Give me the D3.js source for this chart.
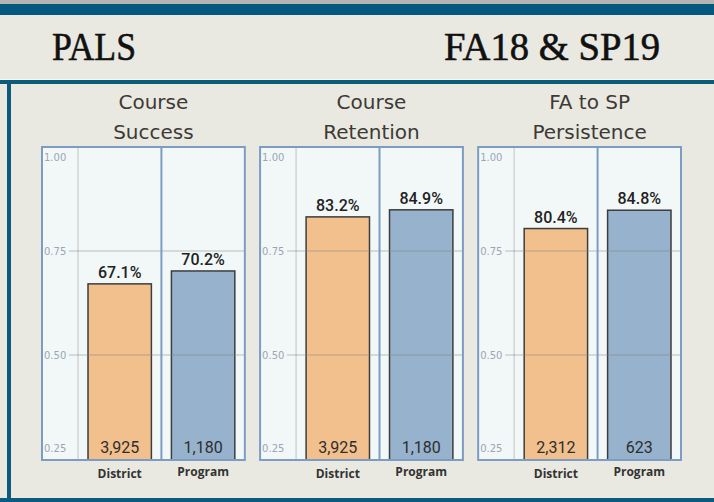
<!DOCTYPE html>
<html>
<head>
<meta charset="utf-8">
<script src="https://cdn.jsdelivr.net/npm/d3@7"></script>
<style>
  body { margin: 0; background: #e9e9e1; }
  svg { display: block; }
</style>
</head>
<body>
<script>
// chart data
var metrics = ["Course Success", "Course Retention", "FA to SP Persistence"];
var titleLines = [["Course", "Success"], ["Course", "Retention"], ["FA to SP", "Persistence"]];
var groups = ["District", "Program"];
var districtRates = [0.671, 0.832, 0.804];
var programRates = [0.702, 0.849, 0.848];
var districtCounts = [3925, 3925, 2312];
var programCounts = [1180, 1180, 623];
var yTicks = [0.25, 0.50, 0.75, 1.00];

var width = 714, height = 502;
var colors = {District: "#f2c08d", Program: "#97b2cc"};

var svg = d3.select("body").append("svg")
    .attr("width", width)
    .attr("height", height);

// page frame
svg.append("rect").attr("width", width).attr("height", height).attr("fill", "#e9e9e1");
svg.append("rect").attr("x", 0).attr("y", 0).attr("width", width).attr("height", 4).attr("fill", "#b4b4b2");
svg.append("rect").attr("x", 0).attr("y", 4).attr("width", width).attr("height", 11).attr("fill", "#03587f");
svg.append("rect").attr("x", 0).attr("y", 79).attr("width", width).attr("height", 1).attr("fill", "#f7f7f2");
svg.append("rect").attr("x", 0).attr("y", 80).attr("width", width).attr("height", 4).attr("fill", "#0c5a7c");
svg.append("rect").attr("x", 7).attr("y", 80).attr("width", 4).attr("height", height - 80).attr("fill", "#0c5a7c");
svg.append("rect").attr("x", 0).attr("y", 498).attr("width", width).attr("height", 4).attr("fill", "#0c5a7c");

// header
svg.append("text")
    .attr("x", 52).attr("y", 60)
    .attr("textLength", 84).attr("lengthAdjust", "spacingAndGlyphs")
    .style("font-family", "Liberation Serif")
    .style("font-size", "39px")
    .style("fill", "#111")
    .style("stroke", "#111").style("stroke-width", 0.6)
    .text("PALS");

svg.append("text")
    .attr("x", 444).attr("y", 60)
    .attr("textLength", 216).attr("lengthAdjust", "spacingAndGlyphs")
    .style("font-family", "Liberation Serif")
    .style("font-size", "39px")
    .style("fill", "#111")
    .style("stroke", "#111").style("stroke-width", 0.6)
    .text("FA18 & SP19");

// scales
var panelTop = 147, panelH = 313, plotH = 312;
var px = d3.scaleBand().domain(metrics).range([42, 681]).paddingInner(0.07);
var pw = px.bandwidth();
var gutter = 36;
var x = d3.scaleBand().domain(groups).range([gutter, pw]);
var y = d3.scaleLinear().domain([0.25, 1.00]).range([plotH, 0]);

var fmtPct = d3.format(".1%");
var fmtCount = d3.format(",");

metrics.forEach(function(m, i) {
  var g = svg.append("g")
      .attr("transform", "translate(" + px(m) + "," + panelTop + ")");

  // title
  titleLines[i].forEach(function(line, j) {
    svg.append("text")
        .attr("x", px(m) + pw / 2 + 10)
        .attr("y", 109 + j * 30)
        .style("text-anchor", "middle")
        .style("font-family", "DejaVu Sans")
        .style("font-size", "20px")
        .style("fill", "#3d3a36")
        .text(line);
  });

  g.append("rect")
      .attr("width", pw).attr("height", panelH)
      .attr("fill", "#f2f8f8");

  // vertical gray line at gutter
  g.append("line")
      .attr("x1", gutter).attr("x2", gutter)
      .attr("y1", 0).attr("y2", panelH)
      .attr("stroke", "#d2d4d4").attr("stroke-width", 1.5);

  var rows = [
    {group: "District", rate: districtRates[i], count: districtCounts[i]},
    {group: "Program", rate: programRates[i], count: programCounts[i]}
  ];

  var inset = x.bandwidth() * 0.12;

  g.selectAll(".bar")
      .data(rows)
    .enter().append("rect")
      .attr("class", "bar")
      .attr("x", function(d) { return x(d.group) + inset; })
      .attr("width", x.bandwidth() - 2 * inset)
      .attr("y", function(d) { return y(d.rate); })
      .attr("height", function(d) { return plotH - y(d.rate) + 1; })
      .attr("fill", function(d) { return colors[d.group]; })
      .attr("stroke", "#3c3c3c")
      .attr("stroke-width", 1.5);

  // horizontal gridlines over bars
  g.selectAll(".grid")
      .data([0.50, 0.75])
    .enter().append("line")
      .attr("x1", 27).attr("x2", pw)
      .attr("y1", function(d) { return y(d); })
      .attr("y2", function(d) { return y(d); })
      .attr("stroke", "#7f7f7f").attr("stroke-opacity", 0.35).attr("stroke-width", 1.5);

  // y tick labels
  g.selectAll(".tick")
      .data(yTicks)
    .enter().append("text")
      .attr("x", 2)
      .attr("y", function(d) {
        if (d === 1.00) return y(d) + 14;
        if (d === 0.25) return y(d) - 7;
        return y(d) + 4;
      })
      .style("font-family", "DejaVu Sans")
      .style("font-size", "10px")
      .style("fill", "#9aa6b6")
      .text(function(d) { return d3.format(".2f")(d); });

  // value labels
  g.selectAll(".val")
      .data(rows)
    .enter().append("text")
      .attr("x", function(d) { return x(d.group) + x.bandwidth() / 2; })
      .attr("y", function(d) { return y(d.rate) - 6; })
      .style("text-anchor", "middle")
      .style("font-family", "Roboto")
      .style("font-weight", 500)
      .style("font-size", "16px")
      .style("fill", "#222")
      .text(function(d) { return fmtPct(d.rate); });

  // counts
  g.selectAll(".cnt")
      .data(rows)
    .enter().append("text")
      .attr("x", function(d) { return x(d.group) + x.bandwidth() / 2; })
      .attr("y", plotH - 6)
      .style("text-anchor", "middle")
      .style("font-family", "Roboto")
      .style("font-size", "16px")
      .style("fill", "#2e2e2e")
      .text(function(d) { return fmtCount(d.count); });

  // divider and border
  g.append("line")
      .attr("x1", x("Program")).attr("x2", x("Program"))
      .attr("y1", 0).attr("y2", panelH)
      .attr("stroke", "#7d9cc4").attr("stroke-width", 2);

  g.append("rect")
      .attr("width", pw).attr("height", panelH)
      .attr("fill", "none")
      .attr("stroke", "#7d9cc4").attr("stroke-width", 2);

  // category labels
  g.selectAll(".cat")
      .data(groups)
    .enter().append("text")
      .attr("x", function(d) { return x(d) + x.bandwidth() / 2; })
      .attr("y", function(d) { return d === "District" ? panelH + 18 : panelH + 16; })
      .style("text-anchor", "middle")
      .style("font-family", "Open Sans")
      .style("font-weight", "bold")
      .style("font-size", "12px")
      .style("fill", "#333")
      .text(function(d) { return d; });
});
</script>
</body>
</html>
